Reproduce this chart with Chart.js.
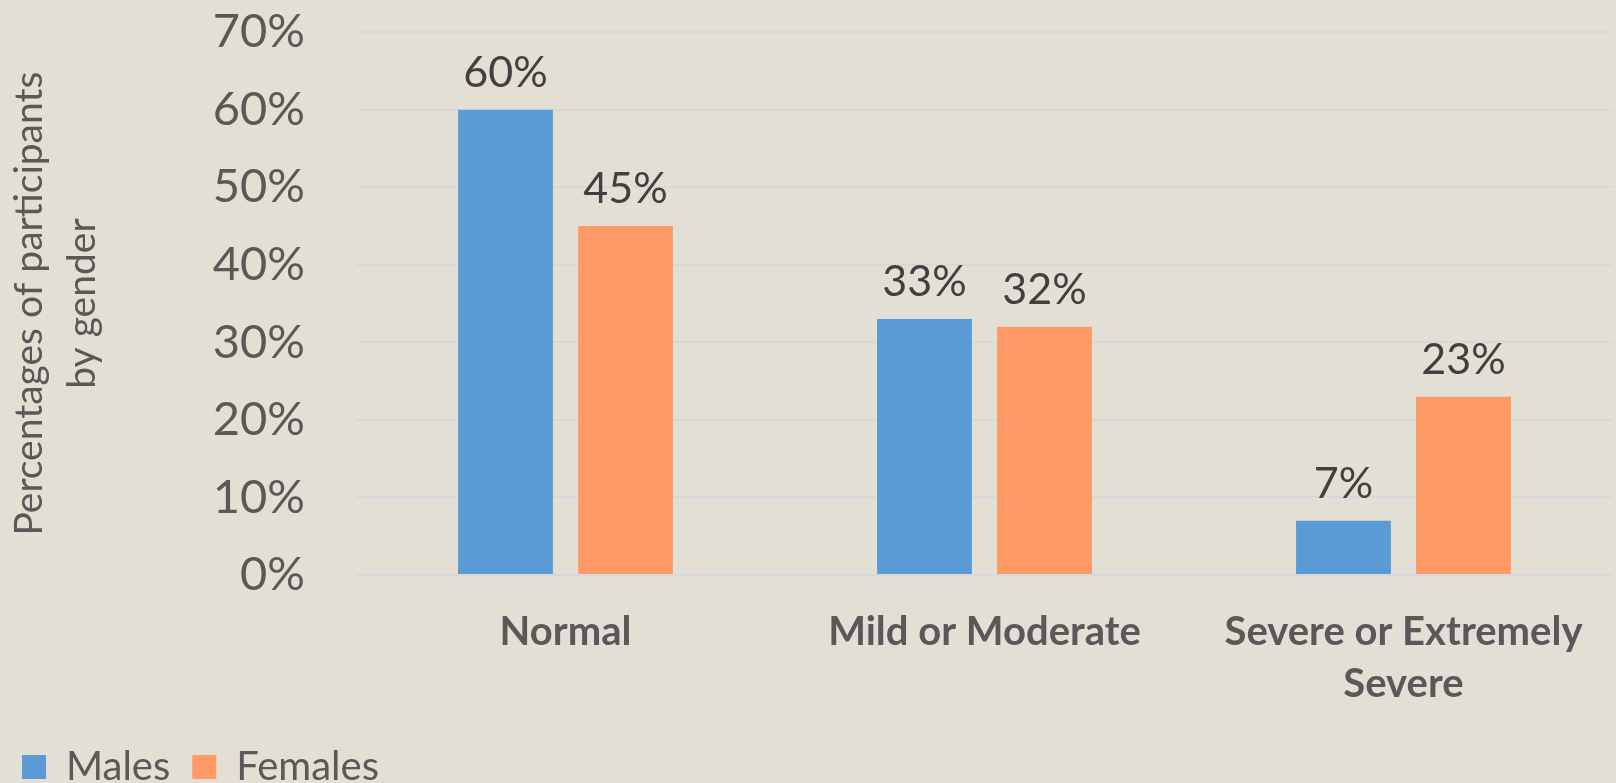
<!DOCTYPE html>
<html>
<head>
<meta charset="utf-8">
<script src="https://cdn.jsdelivr.net/npm/chart.js@4/dist/chart.umd.min.js"></script>
<style>
  html, body { margin: 0; padding: 0; background: #E4DFD4; }
  #wrap { width: 1616px; height: 783px; }
</style>
</head>
<body>
<div id="wrap"><canvas id="chart" width="1616" height="783"></canvas></div>
<script>
// Severity categories (multi-line labels wrap like the original axis)
const categories = ['Normal', 'Mild or Moderate', ['Severe or Extremely', 'Severe']];
// Percentage of participants in each category, by gender
const males = [60, 33, 7];
const females = [45, 32, 23];
// Y axis range and step (percent)
const yMax = 70;
const yStep = 10;

const textGrey = '#595959';
const labelDark = '#404040';

// Paints the page-coloured background behind the chart
const backgroundFill = {
  id: 'backgroundFill',
  beforeDraw(chart) {
    const { ctx, width, height } = chart;
    ctx.save();
    ctx.fillStyle = '#E4DFD4';
    ctx.fillRect(0, 0, width, height);
    ctx.restore();
  }
};

// Writes each bar's value above it
const valueLabels = {
  id: 'valueLabels',
  afterDatasetsDraw(chart) {
    const { ctx } = chart;
    ctx.save();
    ctx.font = '43px Lato';
    ctx.fillStyle = labelDark;
    ctx.textAlign = 'center';
    ctx.textBaseline = 'alphabetic';
    chart.data.datasets.forEach((ds, i) => {
      const meta = chart.getDatasetMeta(i);
      meta.data.forEach((bar, j) => {
        ctx.fillText(ds.data[j] + '%', bar.x, bar.y - 23);
      });
    });
    ctx.restore();
  }
};

new Chart(document.getElementById('chart'), {
  type: 'bar',
  data: {
    labels: categories,
    datasets: [
      { label: 'Males', data: males, backgroundColor: '#5B9BD5', borderWidth: 0 },
      { label: 'Females', data: females, backgroundColor: '#FF9966', borderWidth: 0 }
    ]
  },
  options: {
    responsive: false,
    animation: false,
    categoryPercentage: 0.573,
    barPercentage: 0.79,
    layout: { padding: { top: 0, right: 3, bottom: -14, left: 0 } },
    plugins: {
      legend: {
        position: 'bottom',
        align: 'start',
        labels: {
          boxWidth: 24,
          boxHeight: 24,
          padding: 22,
          color: textGrey,
          font: { family: 'Lato', size: 40 }
        }
      },
      tooltip: { enabled: false }
    },
    scales: {
      x: {
        grid: { display: false, drawTicks: false },
        border: { display: false },
        ticks: {
          color: textGrey,
          padding: 31,
          maxRotation: 0,
          font: { family: 'Lato', size: 40, weight: 'bold', lineHeight: 1.3 }
        },
        afterFit(scale) { scale.height = 150; }
      },
      y: {
        min: 0,
        max: yMax,
        ticks: {
          stepSize: yStep,
          color: textGrey,
          padding: 4,
          font: { family: 'Lato', size: 47 },
          callback: v => v + '%'
        },
        // invisible tick marks keep the labels clear of the plot area
        grid: { color: '#D6D9DC', lineWidth: 2, drawTicks: true, tickLength: 47, tickColor: 'rgba(0,0,0,0)' },
        border: { display: false },
        title: {
          display: true,
          text: ['Percentages of participants', 'by gender'],
          color: textGrey,
          font: { family: 'Lato', size: 39, lineHeight: 1.35 },
          padding: { top: 3, bottom: 0 }
        },
        afterFit(scale) { scale.width = 356; }
      }
    }
  },
  plugins: [backgroundFill, valueLabels]
});
</script>
</body>
</html>
